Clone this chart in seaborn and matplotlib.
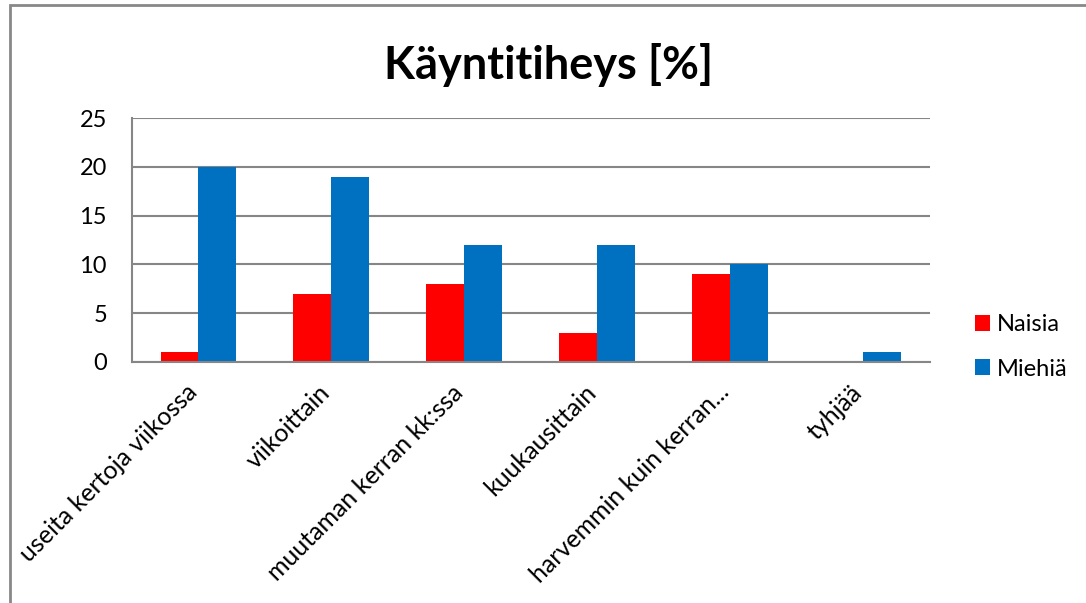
import pandas as pd
import numpy as np
import matplotlib
matplotlib.use("Agg")
import matplotlib.pyplot as plt
import seaborn as sns
from matplotlib.patches import Rectangle

# data
categories = ['useita kertoja viikossa', 'viikoittain', 'muutaman kerran kk:ssa',
              'kuukausittain', 'harvemmin kuin kerran...', 'tyhjää']
naisia = [1, 7, 8, 3, 9, 0]
miehia = [20, 19, 12, 12, 10, 1]
series_names = ['Naisia', 'Miehiä']
colors = ['#FF0000', '#0070C0']
yticks = [0, 5, 10, 15, 20, 25]

df = pd.DataFrame({
    'cat': categories * 2,
    'val': naisia + miehia,
    'sarja': [series_names[0]] * len(categories) + [series_names[1]] * len(categories),
})

sns.set_style('white', {'text.color': 'black', 'xtick.color': 'black', 'ytick.color': 'black'})
plt.rcParams['font.family'] = ['Lato', 'DejaVu Sans']

fig = plt.figure(figsize=(10.86, 6.03), dpi=100)
ax = fig.add_axes([0.1215, 0.3997, 0.7345, 0.4046])

sns.barplot(data=df, x='cat', y='val', hue='sarja', palette=colors,
            width=0.57, gap=0, saturation=1, ax=ax, linewidth=0)

ax.set_ylim(0, 25)
ax.set_yticks(yticks)
ax.set_xlim(-0.5, len(categories) - 0.5)
ax.yaxis.grid(True, color='#868686', linewidth=1.5)
ax.set_axisbelow(True)
for s in ['top', 'right']:
    ax.spines[s].set_visible(False)
for s in ['left', 'bottom']:
    ax.spines[s].set_color('#868686')
    ax.spines[s].set_linewidth(1.5)
ax.set_xlabel('')
ax.set_ylabel('')
ax.tick_params(axis='y', length=0, pad=18, labelsize=17, labelcolor='black')
ax.tick_params(axis='x', length=0, pad=23, labelsize=18, labelcolor='black')
plt.setp(ax.get_xticklabels(), rotation=45, ha='right', va='baseline', rotation_mode='anchor')

leg = ax.legend(loc='center left', bbox_to_anchor=(0.878, 0.425), bbox_transform=fig.transFigure,
                frameon=False, fontsize=17, handlelength=0.65, handleheight=0.65,
                labelspacing=1.0, handletextpad=0.3)
for t in leg.get_texts():
    t.set_color('black')

fig.text(0.505, 0.893, 'Käyntitiheys [%]', ha='center', va='center',
         fontsize=32.5, fontweight='bold', color='black')

# outer chart frame (only left and top are visible)
fig.patches.append(Rectangle((10 / 1086, -0.1), 1.2, 1 - 5 / 603 + 0.1,
                             transform=fig.transFigure, fill=False,
                             edgecolor='#888888', linewidth=2))

fig.savefig('out.png', dpi=100)
